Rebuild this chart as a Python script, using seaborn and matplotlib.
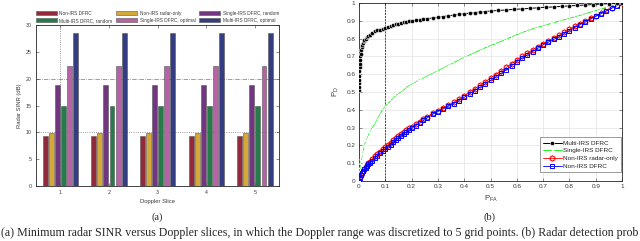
import matplotlib
matplotlib.use("Agg")
import matplotlib.pyplot as plt
import seaborn as sns
import pandas as pd

# ---------------------------------------------------------------
# datos (a): SINR minimo por slice Doppler
# ---------------------------------------------------------------
slices = [1, 2, 3, 4, 5]
esquemas = ["Non-IRS DFRC", "Non-IRS radar-only", "Single-IRS DFRC, random",
            "Multi-IRS DFRC, random", "Single-IRS DFRC, optimal", "Multi-IRS DFRC, optimal"]
sinr_non_irs = [9.3, 9.3, 9.3, 9.3, 9.3]
sinr_radar_only = [9.8, 9.8, 9.8, 9.8, 9.8]
sinr_single_random = [18.8, 18.8, 18.8, 18.8, 18.8]
sinr_multi_random = [14.9, 14.9, 14.9, 14.9, 14.9]
sinr_single_opt = [22.35, 22.35, 22.35, 22.35, 22.35]
sinr_multi_opt = [28.45, 28.45, 28.45, 28.45, 28.45]
colores_barras = ["#a3192f", "#f0b31e", "#7a2a8c", "#178a48", "#c455ae", "#27338f"]

# ---------------------------------------------------------------
# datos (b): curvas ROC
# ---------------------------------------------------------------
pfa_multi = [0, 0, 0, 0, 0, 0.001, 0.002, 0.003, 0.004, 0.005, 0.006,
             0.008, 0.01, 0.012, 0.015, 0.018, 0.02,
             0.025, 0.03, 0.035, 0.04,
             0.05, 0.06, 0.07, 0.08, 0.09, 0.1,
             0.11, 0.12, 0.13, 0.14, 0.15, 0.16, 0.17, 0.18, 0.19, 0.2,
             0.215, 0.23, 0.245, 0.26,
             0.28, 0.3, 0.32, 0.34, 0.36, 0.38, 0.4, 0.42, 0.44, 0.46, 0.48, 0.5,
             0.53, 0.56, 0.59, 0.62, 0.65, 0.68, 0.71, 0.74, 0.77, 0.8, 0.83, 0.86,
             0.89, 0.92, 0.95, 0.98, 1.0]
pd_multi = [0.51, 0.53, 0.55, 0.57, 0.59, 0.62, 0.64, 0.66, 0.68, 0.70, 0.715,
            0.735, 0.75, 0.765, 0.775, 0.785, 0.79,
            0.80, 0.81, 0.815, 0.822,
            0.832, 0.84, 0.846, 0.851, 0.856, 0.862,
            0.867, 0.872, 0.876, 0.88, 0.884, 0.888, 0.891, 0.894, 0.897, 0.9,
            0.903, 0.906, 0.909, 0.912,
            0.916, 0.92, 0.924, 0.928, 0.932, 0.936, 0.94, 0.943, 0.946, 0.949, 0.952, 0.955,
            0.958, 0.961, 0.964, 0.967, 0.97, 0.973, 0.976, 0.978, 0.981, 0.984, 0.986, 0.989,
            0.991, 0.994, 0.996, 0.998, 1.0]

pfa_single = [0, 0.002, 0.004, 0.006, 0.008, 0.01,
              0.013, 0.016, 0.02,
              0.025, 0.03, 0.035, 0.04, 0.045, 0.05,
              0.06, 0.07, 0.08, 0.09, 0.1, 0.11, 0.12, 0.13, 0.14, 0.15,
              0.165, 0.18, 0.195, 0.21, 0.225, 0.24,
              0.26, 0.28, 0.3, 0.32, 0.34, 0.36, 0.38, 0.4,
              0.43, 0.46, 0.49, 0.52, 0.55, 0.58, 0.61, 0.64, 0.67, 0.7,
              0.73, 0.76, 0.79, 0.82, 0.85, 0.88, 0.91, 0.94, 0.97, 1.0]
pd_single = [0, 0.04, 0.07, 0.09, 0.11, 0.13,
             0.155, 0.17, 0.2,
             0.22, 0.24, 0.255, 0.27, 0.285, 0.3,
             0.32, 0.35, 0.375, 0.4, 0.42, 0.435, 0.45, 0.465, 0.48, 0.49,
             0.505, 0.525, 0.54, 0.55, 0.565, 0.575,
             0.59, 0.605, 0.62, 0.635, 0.65, 0.665, 0.68, 0.695,
             0.715, 0.735, 0.755, 0.772, 0.79, 0.81, 0.828, 0.845, 0.86, 0.872,
             0.885, 0.898, 0.91, 0.922, 0.935, 0.948, 0.962, 0.975, 0.988, 1.0]

pfa_non_irs = [0, 0.004, 0.008, 0.012, 0.016, 0.02,
               0.025, 0.03, 0.035, 0.04,
               0.05, 0.06, 0.07, 0.08, 0.09, 0.1, 0.11, 0.12, 0.13, 0.14,
               0.15, 0.16, 0.17, 0.18, 0.19, 0.2,
               0.215, 0.23, 0.245, 0.26,
               0.28, 0.3, 0.32, 0.34, 0.36, 0.38, 0.4, 0.42, 0.44, 0.46,
               0.48, 0.5, 0.52, 0.54, 0.56, 0.58, 0.6, 0.62, 0.64, 0.66,
               0.68, 0.7, 0.72, 0.74, 0.76, 0.78, 0.8, 0.82, 0.84, 0.86,
               0.88, 0.9, 0.92, 0.94, 0.96, 0.98, 1.0]
pd_radar = [0, 0.02, 0.036, 0.048, 0.058, 0.068,
            0.08, 0.09, 0.1, 0.107,
            0.123, 0.138, 0.152, 0.165, 0.177, 0.19, 0.203, 0.216, 0.229, 0.242,
            0.254, 0.266, 0.277, 0.287, 0.297, 0.306,
            0.32, 0.334, 0.348, 0.362,
            0.38, 0.395, 0.41, 0.425, 0.442, 0.46, 0.48, 0.5, 0.518, 0.538,
            0.558, 0.578, 0.598, 0.618, 0.638, 0.66, 0.68, 0.7, 0.718, 0.737,
            0.755, 0.772, 0.788, 0.803, 0.818, 0.835, 0.852, 0.868, 0.883, 0.898,
            0.913, 0.928, 0.943, 0.958, 0.972, 0.986, 1.0]
pd_dfrc = [0, 0.018, 0.033, 0.045, 0.055, 0.065,
           0.075, 0.085, 0.093, 0.1,
           0.115, 0.13, 0.142, 0.155, 0.167, 0.18, 0.193, 0.205, 0.218, 0.23,
           0.243, 0.255, 0.265, 0.275, 0.285, 0.295,
           0.31, 0.325, 0.34, 0.355,
           0.375, 0.39, 0.405, 0.42, 0.435, 0.452, 0.47, 0.49, 0.508, 0.527,
           0.546, 0.565, 0.585, 0.605, 0.625, 0.648, 0.67, 0.69, 0.708, 0.727,
           0.746, 0.765, 0.78, 0.795, 0.81, 0.828, 0.845, 0.862, 0.878, 0.893,
           0.909, 0.925, 0.94, 0.955, 0.97, 0.985, 1.0]

# ---------------------------------------------------------------
# estilo
# ---------------------------------------------------------------
sns.set_style("ticks")
plt.rcParams["font.family"] = ["Liberation Sans", "DejaVu Sans"]
plt.rcParams["xtick.direction"] = "in"
plt.rcParams["ytick.direction"] = "in"
plt.rcParams["axes.linewidth"] = 0.6
GRIS_TICK = "#3a3a3a"

fig = plt.figure(figsize=(6.4, 2.41), dpi=100)
fig.patch.set_facecolor("white")
ax_a = fig.add_axes([0.05625, 0.228, 0.380, 0.668])
ax_b = fig.add_axes([0.561, 0.249, 0.411, 0.7386])

# ---------------------------------------------------------------
# (a) barras agrupadas
# ---------------------------------------------------------------
valores = [sinr_non_irs, sinr_radar_only, sinr_single_random,
           sinr_multi_random, sinr_single_opt, sinr_multi_opt]
filas = []
for nombre, serie in zip(esquemas, valores):
    for s, v in zip(slices, serie):
        filas.append({"slice": s, "sinr": v, "esquema": nombre})
df_barras = pd.DataFrame(filas)

ax_a.axhline(20, color="#777777", lw=0.5, ls="-.", zorder=0)
ax_a.axhline(10, color="#777777", lw=0.6, ls=":", zorder=0)
ax_a.axvline(0, color="#777777", lw=0.6, ls=":", zorder=0)

sns.barplot(data=df_barras, x="slice", y="sinr", hue="esquema", hue_order=esquemas,
            palette=colores_barras, width=0.75, gap=0.18, edgecolor="#555555",
            linewidth=0.4, errorbar=None, ax=ax_a, zorder=2)

ax_a.set_xlim(-0.5, 4.5)
ax_a.set_ylim(0, 30)
ax_a.set_yticks([0, 5, 10, 15, 20, 25, 30])
ax_a.set_xlabel("Doppler Slice", fontsize=4.2, color=GRIS_TICK, labelpad=3)
ax_a.set_ylabel("Radar SINR (dB)", fontsize=4.2, color=GRIS_TICK, labelpad=3)
ax_a.tick_params(labelsize=3.8, colors=GRIS_TICK, length=2, width=0.4, pad=3,
                 top=True, right=True)

handles, labels = ax_a.get_legend_handles_labels()
ax_a.get_legend().remove()
orden = [0, 3, 1, 4, 2, 5]
fig.legend([handles[i] for i in orden], [labels[i] for i in orden], ncol=3,
           loc="lower left", bbox_to_anchor=(0.056, 0.905, 0.38, 0.09), mode="expand",
           frameon=False, fontsize=3.4, handlelength=4.4, handleheight=1.0,
           handletextpad=0.6, labelspacing=0.45, borderaxespad=0, borderpad=0,
           labelcolor=GRIS_TICK)

# ---------------------------------------------------------------
# (b) curvas ROC
# ---------------------------------------------------------------
ax_b.grid(True, color="#e3e3e3", lw=0.5)
ax_b.axvline(0.1, color="#333333", lw=0.6, ls=(0, (2.5, 1.2)), zorder=1)

sns.lineplot(x=pfa_multi, y=pd_multi, sort=False, estimator=None, color="black",
             marker="o", markersize=3.0, markeredgewidth=0.4, lw=0.7,
             label="Multi-IRS DFRC", ax=ax_b, zorder=5)
sns.lineplot(x=pfa_single, y=pd_single, sort=False, estimator=None, color="#00ee00",
             marker="x", markersize=3.6, markeredgewidth=0.7, lw=0.6,
             label="Single-IRS DFRC", ax=ax_b, zorder=4)
sns.lineplot(x=pfa_non_irs, y=pd_radar, sort=False, estimator=None, color="#ff0000",
             marker="h", markersize=3.8, markerfacecolor="none", markeredgecolor="#ff0000",
             markeredgewidth=0.8, lw=0.6, label="Non-IRS radar-only", ax=ax_b, zorder=3)
sns.lineplot(x=pfa_non_irs, y=pd_dfrc, sort=False, estimator=None, color="#0000ff",
             marker="s", markersize=3.4, markerfacecolor="none", markeredgecolor="#0000ff",
             markeredgewidth=0.7, lw=0.6, label="Non-IRS DFRC", ax=ax_b, zorder=4)

ax_b.set_xlim(0, 1)
ax_b.set_ylim(0, 1)
ticks_b = [0, 0.1, 0.2, 0.3, 0.4, 0.5, 0.6, 0.7, 0.8, 0.9, 1]
etiquetas_b = ["0", "0.1", "0.2", "0.3", "0.4", "0.5", "0.6", "0.7", "0.8", "0.9", "1"]
ax_b.set_xticks(ticks_b, etiquetas_b)
ax_b.set_yticks(ticks_b, etiquetas_b)
ax_b.tick_params(labelsize=4.6, colors=GRIS_TICK, length=2, width=0.4, pad=2.5,
                 top=True, right=True)
ax_b.set_xlabel(r"P$_{\mathregular{FA}}$", fontsize=5.5, color=GRIS_TICK, labelpad=3)
ax_b.set_ylabel(r"P$_{\mathregular{D}}$", fontsize=5.5, color=GRIS_TICK, labelpad=4)
ax_b.legend(loc="lower right", bbox_to_anchor=(0.997, 0.05), borderaxespad=0,
            fontsize=4.6, handlelength=3.0, handletextpad=0.2, labelspacing=0.35,
            frameon=True, fancybox=False, edgecolor="#8a8a8a", framealpha=1,
            borderpad=0.5, labelcolor="#222222")
ax_b.get_legend().get_frame().set_linewidth(0.6)

# ---------------------------------------------------------------
# subtitulos y pie de figura
# ---------------------------------------------------------------
fig.text(157 / 640, 1 - 217 / 241, "(a)", ha="center", va="center",
         fontsize=7.5, family="Liberation Serif")
fig.text(490 / 640, 1 - 217 / 241, "(b)", ha="center", va="center",
         fontsize=7.5, family="Liberation Serif")
fig.text(1 / 640, 1 - 233 / 241,
         "(a) Minimum radar SINR versus Doppler slices, in which the Doppler range was "
         "discretized to 5 grid points. (b) Radar detection prob",
         ha="left", va="center", fontsize=8.6, family="Liberation Serif")

fig.savefig("out.png", dpi=100, facecolor="white")
